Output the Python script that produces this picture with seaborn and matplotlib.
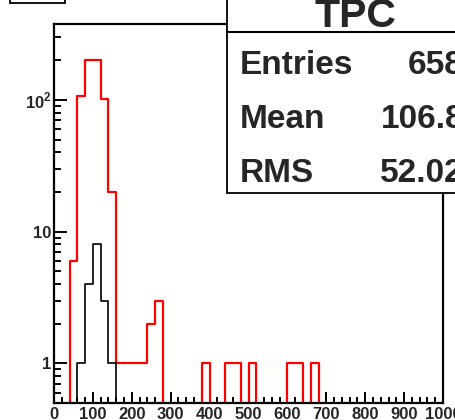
import numpy as np
import pandas as pd
import matplotlib
matplotlib.use('Agg')
import matplotlib.pyplot as plt
from matplotlib.patches import Rectangle
from matplotlib.lines import Line2D
from matplotlib.ticker import FixedLocator, MultipleLocator, LogLocator, NullFormatter
import seaborn as sns

# bin edges 0..1000, width 20
bin_lo = [40, 60, 80, 100, 120, 140, 160, 180, 200, 220, 240, 260,
          380, 440, 460, 500, 600, 620, 660]
red_counts = [6, 108, 200, 203, 102, 20, 1, 1, 1, 1, 2, 3,
              1, 1, 1, 1, 1, 1, 1]
black_lo = [60, 80, 100, 120, 140]
black_counts = [1, 4, 8, 3, 1]

stats_labels = ['Entries', 'Mean', 'RMS']
stats_values = ['658', '106.8', '52.02']
title = 'TPC'

sns.set_style('white')
plt.rcParams['font.family'] = ['Liberation Sans', 'DejaVu Sans']
plt.rcParams['font.weight'] = 'bold'
plt.rcParams['mathtext.fontset'] = 'custom'
plt.rcParams['mathtext.rm'] = 'Liberation Sans:bold'
plt.rcParams['mathtext.bf'] = 'Liberation Sans:bold'

red_df = pd.DataFrame({'x': np.array(bin_lo) + 10.0, 'w': red_counts})
black_df = pd.DataFrame({'x': np.array(black_lo) + 10.0, 'w': black_counts})

fig = plt.figure(figsize=(4.55, 4.2), dpi=100)
ax = fig.add_axes([54 / 455, 1 - 403 / 420, (443 - 54) / 455, (403 - 24) / 420])

sns.histplot(data=red_df, x='x', weights='w', bins=50, binrange=(0, 1000),
             element='step', fill=False, color='red', linewidth=1.6, ax=ax)
sns.histplot(data=black_df, x='x', weights='w', bins=50, binrange=(0, 1000),
             element='step', fill=False, color='black', linewidth=1.2, ax=ax)

ax.set_yscale('log')
ax.set_xlim(0, 1000)
ax.set_ylim(0.5, 378)
ax.set_xlabel('')
ax.set_ylabel('')

for s in ax.spines.values():
    s.set_linewidth(1.6)
    s.set_color('black')

ax.xaxis.set_major_locator(MultipleLocator(100))
ax.xaxis.set_minor_locator(MultipleLocator(20))
ax.yaxis.set_major_locator(FixedLocator([1, 10, 100]))
ax.yaxis.set_minor_locator(LogLocator(base=10, subs=np.arange(2, 10), numticks=12))
ax.yaxis.set_minor_formatter(NullFormatter())
ax.set_yticklabels(['1', '10', r'$10^{2}$'])
ax.tick_params(axis='both', which='both', direction='in', top=False, right=False,
               bottom=True, left=True, color='black', width=1.4)
ax.tick_params(axis='x', which='major', length=8, pad=3, labelsize=12)
ax.tick_params(axis='x', which='minor', length=4)
ax.tick_params(axis='y', which='major', length=9, pad=2, labelsize=12)
ax.tick_params(axis='y', which='minor', length=5)
for lab in ax.get_xticklabels() + ax.get_yticklabels():
    lab.set_fontweight('bold')

# title box at top-left (mostly outside the canvas)
fig.add_artist(Rectangle((10 / 455, 1 - 3 / 420), 55 / 455, 20 / 420,
                         transform=fig.transFigure, facecolor='white',
                         edgecolor='black', linewidth=1.3, zorder=5))

# stats box
fig.add_artist(Rectangle((227 / 455, 1 - 193 / 420), 300 / 455, 260 / 420,
                         transform=fig.transFigure, facecolor='white',
                         edgecolor='black', linewidth=1.3, zorder=5))
fig.add_artist(Line2D([227 / 455, 1.2], [1 - 32 / 420, 1 - 32 / 420],
                      transform=fig.transFigure, color='black', linewidth=1.5, zorder=6))
fig.text(355 / 455, 1 - 27 / 420, title, ha='center', va='baseline',
         fontsize=29.5, fontweight='bold', zorder=7)
for i, (lab, val) in enumerate(zip(stats_labels, stats_values)):
    yb = 1 - (74 + 54 * i) / 420
    fig.text(240 / 455, yb, lab, ha='left', va='baseline',
             fontsize=24, fontweight='bold', zorder=7)
    fig.text(464 / 455, yb, val, ha='right', va='baseline',
             fontsize=24, fontweight='bold', zorder=7)

fig.savefig('out.png', dpi=100)
